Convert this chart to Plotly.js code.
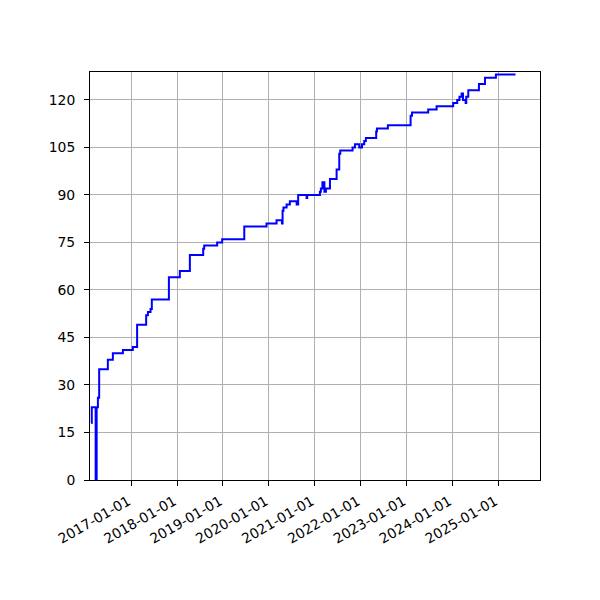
<!DOCTYPE html>
<html>
<head>
<meta charset="utf-8">
<script src="https://cdn.plot.ly/plotly-3.0.1.min.js"></script>
<style>html,body{margin:0;padding:0;background:#fff;}#chart{width:600px;height:600px;}</style>
</head>
<body>
<div id="chart"></div>
<script>
const dates = [
  "2016-02-18","2016-02-22","2016-03-24","2016-04-01","2016-04-11","2016-04-21",
  "2016-06-29","2016-08-08","2016-10-27","2017-01-14","2017-02-17","2017-04-30",
  "2017-05-14","2017-06-04","2017-06-14","2017-10-28","2018-01-23","2018-04-13",
  "2018-07-28","2018-08-05","2018-11-16","2018-12-26","2019-06-20","2019-12-14",
  "2020-03-03","2020-04-15","2020-04-20","2020-04-27","2020-05-22","2020-06-17",
  "2020-08-10","2020-08-22","2020-10-28","2020-11-02","2021-02-11","2021-02-19",
  "2021-03-03","2021-03-19","2021-03-31","2021-05-02","2021-06-24","2021-07-15",
  "2021-07-23","2021-10-29","2021-11-17","2021-12-21","2022-01-12","2022-01-30",
  "2022-02-12","2022-05-05","2022-05-11","2022-08-06","2023-02-03","2023-02-14",
  "2023-06-23","2023-08-29","2024-01-08","2024-02-09","2024-02-27","2024-03-15",
  "2024-03-26","2024-04-16","2024-04-21","2024-05-07","2024-07-31","2024-09-17",
  "2024-12-13","2025-05-18"
];
const counts = [
  18,23,0,23,26,35,
  38,40,41,42,49,52,
  53,54,57,64,66,71,
  73,74,75,76,80,81,
  82,81,85,86,87,88,
  87,90,89,90,91,92,
  94,91,92,95,98,103,
  104,105,106,105,106,107,
  108,110,111,112,115,116,
  117,118,119,120,121,122,
  120,119,121,123,125,127,
  128,128
];
const yTicks = [0,15,30,45,60,75,90,105,120];
const xTicks = ["2017-01-01","2018-01-01","2019-01-01","2020-01-01","2021-01-01",
                "2022-01-01","2023-01-01","2024-01-01","2025-01-01"];
const xRange = ["2016-02-08","2025-11-29"];
const yRange = [0,128.8];

const trace = {
  x: dates, y: counts, type: "scatter", mode: "lines",
  line: {shape: "hv", color: "#0000ff", width: 2},
  hoverinfo: "none"
};
const axisCommon = {
  showgrid: true, gridcolor: "#b0b0b0", gridwidth: 1,
  zeroline: false, showline: true, linecolor: "#000", linewidth: 1, mirror: true,
  ticks: "outside", ticklen: 5, tickwidth: 1, tickcolor: "#000",
  tickfont: {family: "DejaVu Sans", size: 13.9, color: "#000"}
};
const layout = {
  width: 600, height: 600,
  margin: {l: 90, r: 60, t: 72, b: 120, pad: 0},
  paper_bgcolor: "#fff", plot_bgcolor: "#fff",
  showlegend: false,
  xaxis: Object.assign({}, axisCommon, {
    type: "date", range: xRange, tickmode: "array", tickvals: xTicks,
    ticktext: xTicks, tickangle: -30, ticklabelshift: -3, ticklabelstandoff: 2
  }),
  yaxis: Object.assign({}, axisCommon, {
    range: yRange, tickmode: "array", tickvals: yTicks, ticktext: yTicks.map(String),
    ticklabelstandoff: 6
  })
};
Plotly.newPlot("chart", [trace], layout, {displayModeBar: false, staticPlot: true});
</script>
</body>
</html>
